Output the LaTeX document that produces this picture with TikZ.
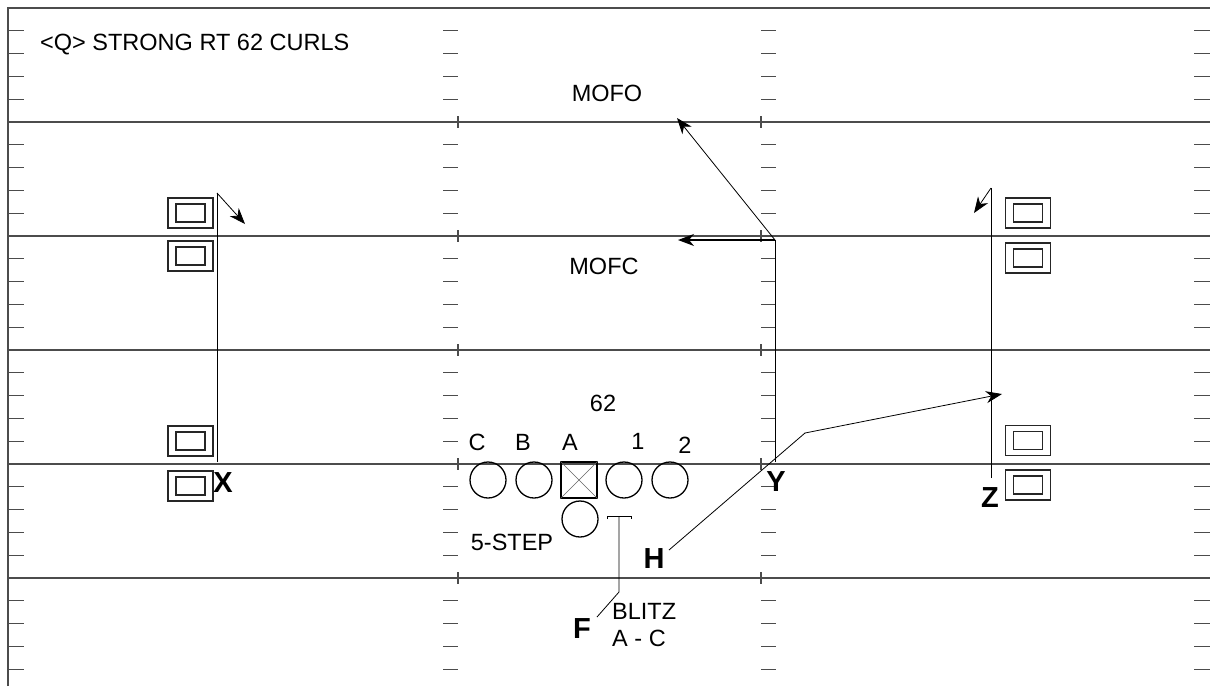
\documentclass[tikz,border=0pt]{standalone}
\usepackage{fontspec}
\setmainfont{Liberation Sans}
\usetikzlibrary{arrows.meta}
\begin{document}
\begin{tikzpicture}[x=1pt,y=-1pt,
  fieldline/.style={line width=1.1pt, draw=black!70},
  hashtick/.style={line width=1.1pt, draw=black!70},
  rbox/.style={draw=black!85, line width=1.1pt, minimum width=45pt, minimum height=30pt, inner sep=0pt, outer sep=0pt},
  ibox/.style={draw=black!85, line width=1.1pt, minimum width=29pt, minimum height=18pt, inner sep=0pt, outer sep=0pt},
  lineman/.style={draw, circle, line width=1.3pt, minimum size=36pt, inner sep=0pt},
  center/.style={draw, rectangle, line width=1.3pt, minimum size=36pt, inner sep=0pt},
  route/.style={line width=0.8pt, draw=black},
  arr/.style={route, -{Stealth[length=16pt,width=12pt,inset=5pt]}},
  lbl/.style={font=\fontsize{23.5}{27}\selectfont, inner sep=0pt},
  big/.style={font=\fontsize{29}{33}\selectfont\bfseries, inner sep=0pt}]
\useasboundingbox (0,0) rectangle (1210,686);
\fill[white] (0,0) rectangle (1210,686);
% field
\draw[fieldline] (8,686) -- (8,8) -- (1210,8);
\foreach \k in {1,...,29}{
  \pgfmathsetmacro\yy{8+22.8*\k}
  \pgfmathtruncatemacro\m{mod(\k,5)}
  \ifnum\m=0
    \draw[fieldline] (8,\yy) -- (1210,\yy);
    \draw[hashtick] (458,\yy-6) -- (458,\yy+6);
    \draw[hashtick] (761,\yy-6) -- (761,\yy+6);
  \else
    \draw[hashtick] (8,\yy) -- (24,\yy);
    \draw[hashtick] (443,\yy) -- (458,\yy);
    \draw[hashtick] (761,\yy) -- (776,\yy);
    \draw[hashtick] (1194,\yy) -- (1210,\yy);
  \fi
}
% receiver boxes
\foreach \n/\x/\y in {xa/190.5/213, xb/190.5/256, xc/190.5/441, xd/190.5/486,
                      za/1028/213, zb/1028/258, zc/1028/440.5, zd/1028/485}{
  \node[rbox] (\n) at (\x,\y) {};
  \node[ibox] (\n i) at (\x,\y) {};
}
% title and zone labels
\node[lbl, anchor=west] (title) at (40,45) {<Q> STRONG RT 62 CURLS};
\node[lbl] (mofo) at (607,93) {MOFO};
\node[lbl] (mofc) at (604,266) {MOFC};
\node[lbl] (play) at (603,403) {62};
% line
\node[lineman] (C) at (488,480) {};
\node[lineman] (B) at (534,480) {};
\node[center] (A) at (579,480) {};
\draw[line width=0.5pt, draw=black!60] (A.north west) -- (A.south east) (A.north east) -- (A.south west);
\node[lineman] (G1) at (624,480) {};
\node[lineman] (G2) at (670,480) {};
\node[lineman] (QB) at (580,519) {};
\node[lbl] (lc) at (477,442) {C};
\node[lbl] (lb) at (523,442) {B};
\node[lbl] (la) at (570,442) {A};
\node[lbl] (l1) at (638,441) {1};
\node[lbl] (l2) at (685,445) {2};
\node[lbl] (step) at (512,542) {5-STEP};
% skill labels
\node[big] (X) at (223,483) {X};
\node[big] (Y) at (776,482) {Y};
\node[big] (Z) at (990,498) {Z};
\node[big] (H) at (654,559) {H};
\node[big] (F) at (582,629) {F};
\node[lbl, anchor=west] (blitz) at (612,611) {BLITZ};
\node[lbl, anchor=west] (ac) at (612,638) {A - C};
% X route
\coordinate (xs) at (217,462);
\coordinate (xt) at (217,193);
\coordinate (xe) at (245,224);
\draw[route] (xs) -- (xt);
\draw[arr] (xt) -- (xe);
% Z route
\coordinate (zs) at (991,478);
\coordinate (zt) at (991,188);
\coordinate (ze) at (974,213);
\draw[route] (zs) -- (zt);
\draw[arr] (zt) -- (ze);
% Y route
\coordinate (ys) at (775,462);
\coordinate (yt) at (775,240);
\coordinate (yo) at (677,118);
\coordinate (yc) at (678,240);
\draw[route] (ys) -- (yt);
\draw[arr, line width=1.3pt] (yt) -- (yc);
\draw[arr] (yt) -- (yo);
% H route
\coordinate (hs) at (669,550);
\coordinate (hb) at (805,433);
\coordinate (he) at (1002,394);
\draw[route] (hs) -- (hb);
\draw[arr] (hb) -- (he);
% F blitz
\coordinate (fl) at (607,516);
\coordinate (fr) at (631,516);
\coordinate (fm) at (619,516);
\coordinate (fb) at (619,592);
\coordinate (fe) at (597,617);
\draw[route] ([yshift=-3pt]fl) -- (fl) -- (fr) -- ([yshift=-3pt]fr);
\draw[route] (fm) -- (fb) -- (fe);
\end{tikzpicture}
\end{document}
